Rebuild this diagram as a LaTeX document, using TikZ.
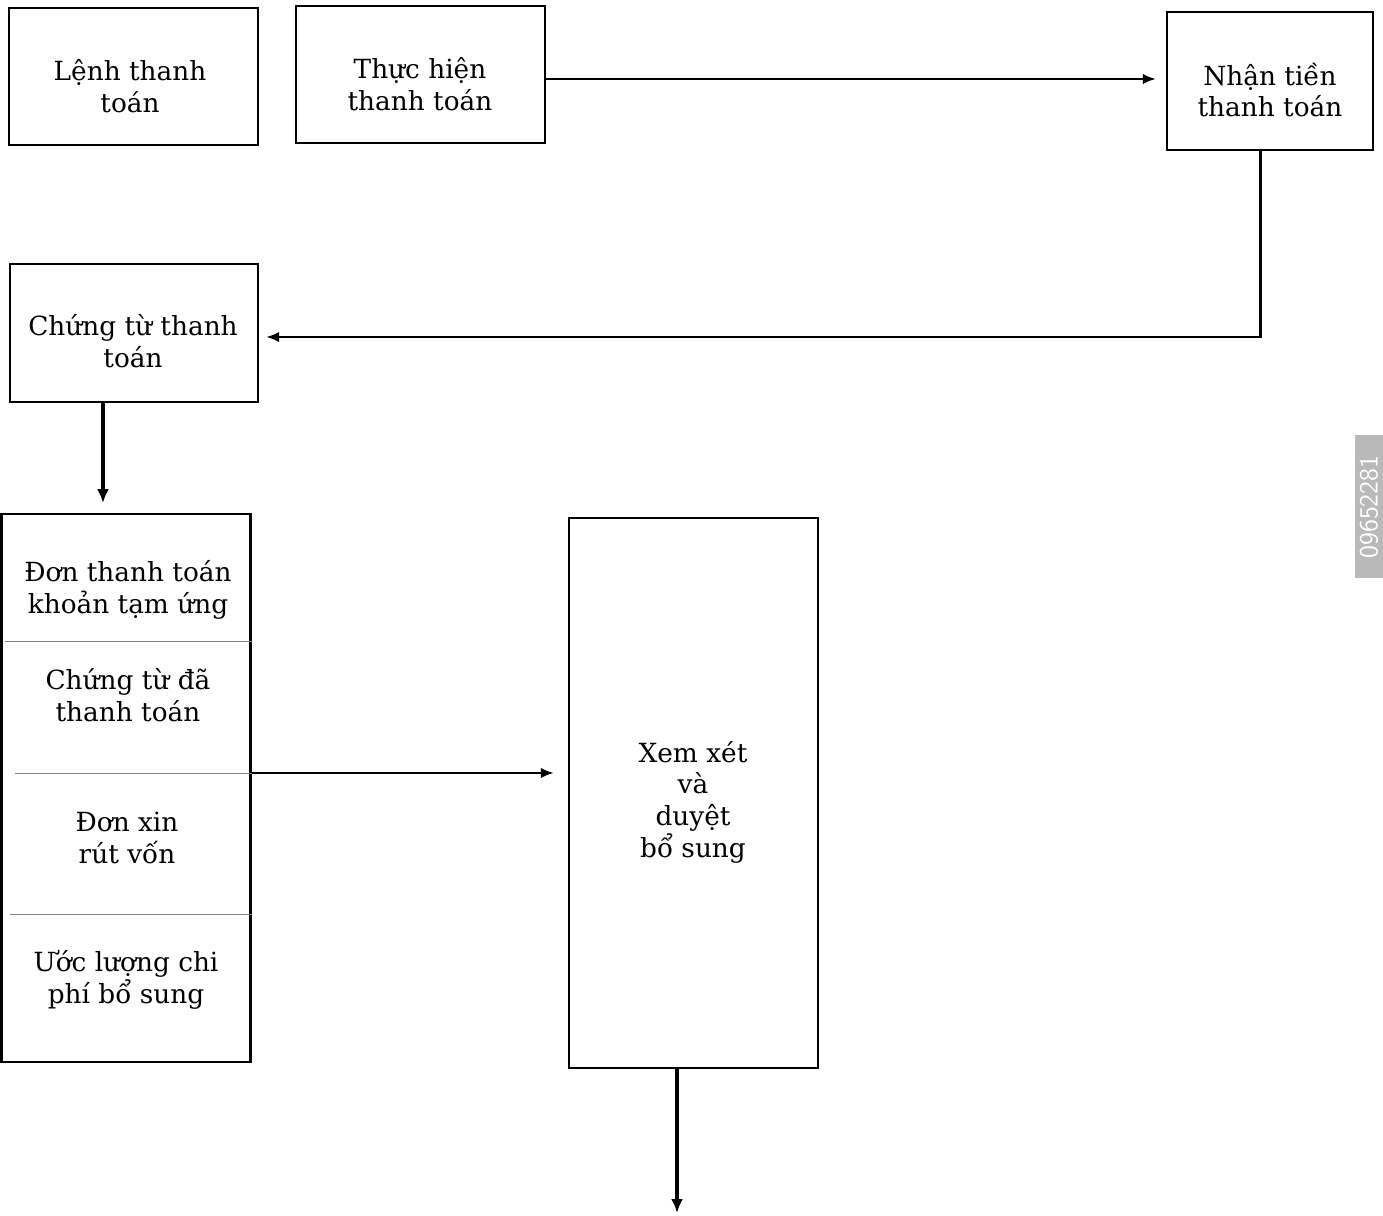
\documentclass[tikz,border=0pt]{standalone}
\usepackage{fontspec}
\setmainfont{DejaVu Serif}
\usetikzlibrary{arrows.meta,positioning}

\begin{document}
\begin{tikzpicture}[x=0.02cm,y=-0.02cm,
    box/.style={draw,line width=1.3pt,rectangle,inner sep=0pt},
    label/.style={align=center,inner sep=0pt,font=\fontsize{15}{18}\selectfont},
    divider/.style={gray,line width=0.5pt},
    flow/.style={line width=1.7pt,-{Latex[length=0.26cm,width=0.21cm]}},
    thickflow/.style={line width=2.6pt,-{Latex[length=0.28cm,width=0.24cm]}}]
    \useasboundingbox (0,0) rectangle (1383,1216);

    % top row
    \node[box,minimum width=4.98cm,minimum height=2.74cm] (lenh) at (133.5,76.5) {};
    \node[box,minimum width=4.98cm,minimum height=2.74cm] (thuchien) at (420.5,74.5) {};
    \node[box,minimum width=4.12cm,minimum height=2.76cm] (nhan) at (1270,81) {};
    \node[label] (lenhtxt) at (130,86) {Lệnh thanh\\toán};
    \node[label] (thuchientxt) at (420,84) {Thực hiện\\thanh toán};
    \node[label] (nhantxt) at (1270,90) {Nhận tiền\\thanh toán};

    % second row
    \node[box,minimum width=4.96cm,minimum height=2.76cm] (chungtu) at (134,333) {};
    \node[label] (chungtutxt) at (133,341) {Chứng từ thanh\\toán};

    % document stack and review
    \node[box,minimum width=4.98cm,minimum height=10.96cm] (hoso) at (126,788) {};
    \node[box,minimum width=4.98cm,minimum height=11cm] (duyet) at (693.5,793) {};
    \node[label] (duyettxt) at (693,802) {Xem xét\\và\\duyệt\\bổ sung};

    \coordinate (div1) at (0,641);
    \coordinate (div2) at (0,773);
    \coordinate (div3) at (0,914);
    \draw[divider] ([xshift=0.1cm]hoso.west |- div1) -- (hoso.east |- div1);
    \draw[divider] ([xshift=0.3cm]hoso.west |- div2) -- (hoso.east |- div2);
    \draw[divider] ([xshift=0.2cm]hoso.west |- div3) -- (hoso.east |- div3);

    \node[label] (don) at (128,590) {Đơn thanh toán\\khoản tạm ứng};
    \node[label] (datt) at (128,695) {Chứng từ đã\\thanh toán};
    \node[label] (rutvon) at (127,838) {Đơn xin\\rút vốn};
    \node[label] (uocluong) at (126,980) {Ước lượng chi\\phí bổ sung};

    % connectors
    \coordinate (toprow) at (0,79);
    \coordinate (bend) at (1260,337);
    \coordinate (cdown) at (103,503);
    \coordinate (out) at (677,1213);

    \draw[flow,shorten >=0.2cm] (thuchien.east |- toprow) -- (nhan.west |- toprow);
    \draw[flow,shorten >=0.14cm] (nhan.south -| bend) -- (bend) -- (chungtu.east |- bend);
    \draw[thickflow] (chungtu.south -| cdown) -- (cdown);
    \draw[flow,shorten >=0.28cm] (hoso.east |- div2) -- (duyet.west |- div2);
    \draw[thickflow] (duyet.south -| out) -- (out);

    % watermark at the edge
    \fill[gray!55] (1355,435) rectangle (1383,578);
    \node[rotate=90,text=white,font=\sffamily\fontsize{15}{15}\selectfont] (wm) at (1369,507) {09652281};
\end{tikzpicture}
\end{document}
